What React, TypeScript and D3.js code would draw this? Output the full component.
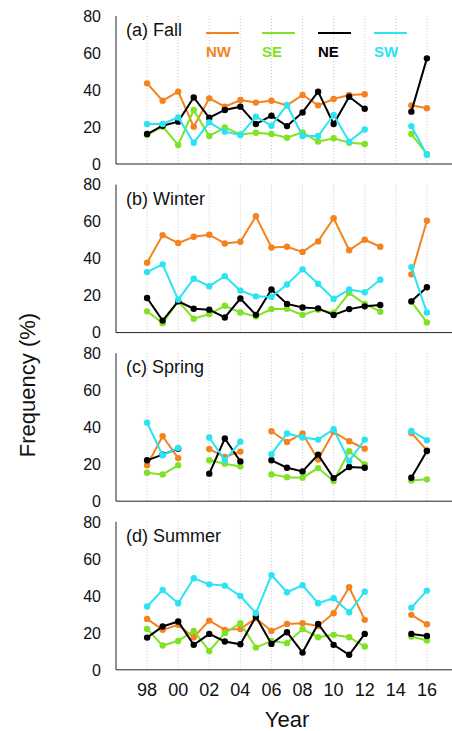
import * as d3 from 'd3';

const years = d3.range(1998, 2017);
const gridYears = d3.range(1998, 2017, 2);
const xTickLabels = ['98', '00', '02', '04', '06', '08', '10', '12', '14', '16'];
const yTicks = [0, 20, 40, 60, 80];
const seriesNames = ['NW', 'SE', 'NE', 'SW'];
const colors = ['#f4821f', '#80e224', '#000000', '#2ae4f4'];
const panelLabels = ['(a) Fall', '(b) Winter', '(c) Spring', '(d) Summer'];

// 1998..2016, null = no data
const fallNW = [43.6, 34.2, 39.1, 20.2, 35.5, 31, 34.6, 33.2, 34.2, 31.7, 37.3, 31.7, 35.1, 37.3, 37.7, null, null, 31.7, 30.1];
const fallSE = [15.7, 20.2, 10.3, 29.2, 15.1, 19.8, 16, 16.9, 16.2, 14.2, 17.1, 12.1, 13.9, 11.5, 10.8, null, null, 16.2, 5.4];
const fallNE = [16.2, 20.7, 22.9, 36, 25, 29.2, 31, 21.6, 26.1, 20.5, 27.9, 39.1, 21.6, 36.4, 29.9, null, null, 28.3, 57.1];
const fallSW = [21.6, 21.6, 25.2, 11.5, 22.5, 17.5, 15.7, 25.6, 20.7, 31.9, 15.1, 15.1, 26.5, 12.1, 18.7, null, null, 20.5, 4.9];

const winterNW = [37.8, 52.7, 48.4, 51.8, 52.9, 48.2, 49.1, 62.9, 46, 46.4, 43.6, 49.3, 61.8, 44.5, 50.2, 46.4, null, 31.5, 60.5];
const winterSE = [11.5, 5.1, 16.9, 7.5, 10, 14.5, 10.9, 8.7, 12.7, 12.9, 9.6, 12.4, 10.7, 21.5, 15.5, 11.3, null, 16.7, 5.5];
const winterNE = [18.7, 6.5, 16.9, 12.9, 12.4, 8.2, 18.4, 9.6, 23.3, 15.5, 13.6, 13.1, 9.5, 12.7, 14.2, 14.9, null, 16.9, 24.5];
const winterSW = [32.7, 36.9, 17.8, 29.1, 25.1, 30.5, 22.7, 19.6, 19.3, 26, 34.2, 26.4, 18.2, 23.3, 21.8, 28.6, null, 35.4, 10.9];

const springNW = [19.4, 35.1, 23.3, null, 28.2, 23.9, 26.8, null, 37.8, 32, 36.6, 22.5, 37.5, 32.4, 28.4, null, null, 36.9, 27.5];
const springSE = [15.4, 14.5, 19.4, null, 22.1, 20.3, 18.8, null, 14.5, 13, 12.7, 17.9, 10.9, 27, 19.9, null, null, 11.2, 11.8];
const springNE = [22.1, 25.2, 28.4, null, 14.9, 33.9, 21.5, null, 22.1, 18.1, 16.1, 25.2, 12.5, 18.5, 18.1, null, null, 12.7, 27.1];
const springSW = [42.4, 24.8, 28.8, null, 34.4, 22.1, 32.2, null, 25.4, 36.6, 34.4, 33.3, 38.9, 21.7, 33.3, null, null, 38, 33];

const summerNW = [27.5, 21.6, 24.3, 17.6, 26.6, 21.6, 22.1, 27.9, 21, 24.8, 25.2, 23.7, 30.6, 44.6, 27, null, null, 29.7, 24.6];
const summerSE = [22.1, 13.1, 15.6, 21, 10.2, 19.8, 25.2, 12, 15.6, 14.4, 22, 17.6, 18.9, 17.6, 12.6, null, null, 18, 15.8];
const summerNE = [17.4, 23.4, 26.1, 13.5, 19.4, 15.3, 13.8, 28.8, 14, 20.3, 9.3, 24.8, 13.5, 8.1, 19.4, null, null, 19.4, 18.3];
const summerSW = [34.2, 43.1, 36, 49.5, 46.2, 45.5, 39.9, 30.6, 51.2, 41.9, 45.7, 36, 38.7, 31.1, 42.2, null, null, 33.6, 42.8];

const panels = [
  [fallNW, fallSE, fallNE, fallSW],
  [winterNW, winterSE, winterNE, winterSW],
  [springNW, springSE, springNE, springSW],
  [summerNW, summerSE, summerNE, summerSW],
];

const width = 452;
const height = 731;
const left = 116;
const panelTop = 16;
const panelH = 148;
const panelStep = 168.6;
const font = 'Liberation Sans, Arial, Helvetica, sans-serif';

export default function App() {
  const x = d3.scaleLinear().domain([1996, 2018]).range([left, 458]);

  return (
    <svg width={width} height={height} style={{ position: 'absolute', left: 0, top: 0 }} fontFamily={font}>
      <rect width={width} height={height} fill="#fff" />
      {panels.map((series, pi) => {
        const top = panelTop + pi * panelStep;
        const y = d3.scaleLinear().domain([0, 80]).range([top + panelH, top]);
        const line = d3.line<number | null>()
          .defined(d => d != null)
          .x((_, i) => x(years[i]))
          .y(d => y(d as number));
        return (
          <g key={pi}>
            {gridYears.map(g => (
              <line key={g} x1={x(g)} x2={x(g)} y1={top} y2={top + panelH}
                stroke="#bbb" strokeWidth={0.8} strokeDasharray="1,2" />
            ))}
            <line x1={left} x2={width} y1={top + panelH} y2={top + panelH} stroke="#222" strokeWidth={1} />
            <line x1={left} x2={left} y1={top} y2={top + panelH} stroke="#222" strokeWidth={1} />
            {yTicks.map(t => (
              <text key={t} x={101} y={y(t)} dy="0.36em" textAnchor="end" fontSize={16} fill="#111">{t}</text>
            ))}
            <text x={126} y={top + 20} fontSize={18} fill="#111">{panelLabels[pi]}</text>
            {series.map((vals, si) => (
              <g key={si}>
                <path d={line(vals) || ''} fill="none" stroke={colors[si]} strokeWidth={2} />
                {vals.map((v, i) => v == null ? null : (
                  <circle key={i} cx={x(years[i])} cy={y(v)} r={3.2} fill={colors[si]} />
                ))}
              </g>
            ))}
          </g>
        );
      })}
      {seriesNames.map((n, i) => {
        const lx = 206 + i * 56;
        return (
          <g key={n}>
            <line x1={lx} x2={lx + 33} y1={33} y2={33} stroke={colors[i]} strokeWidth={2} />
            <text x={lx} y={57} fontSize={15} fontWeight="bold" fill={colors[i]}>{n}</text>
          </g>
        );
      })}
      {gridYears.map((g, i) => (
        <text key={g} x={x(g)} y={696} textAnchor="middle" fontSize={18} fill="#111">{xTickLabels[i]}</text>
      ))}
      <text x={287} y={727} textAnchor="middle" fontSize={22} fill="#111">Year</text>
      <text transform="translate(35,385) rotate(-90)" textAnchor="middle" fontSize={22} fill="#111">Frequency (%)</text>
    </svg>
  );
}
